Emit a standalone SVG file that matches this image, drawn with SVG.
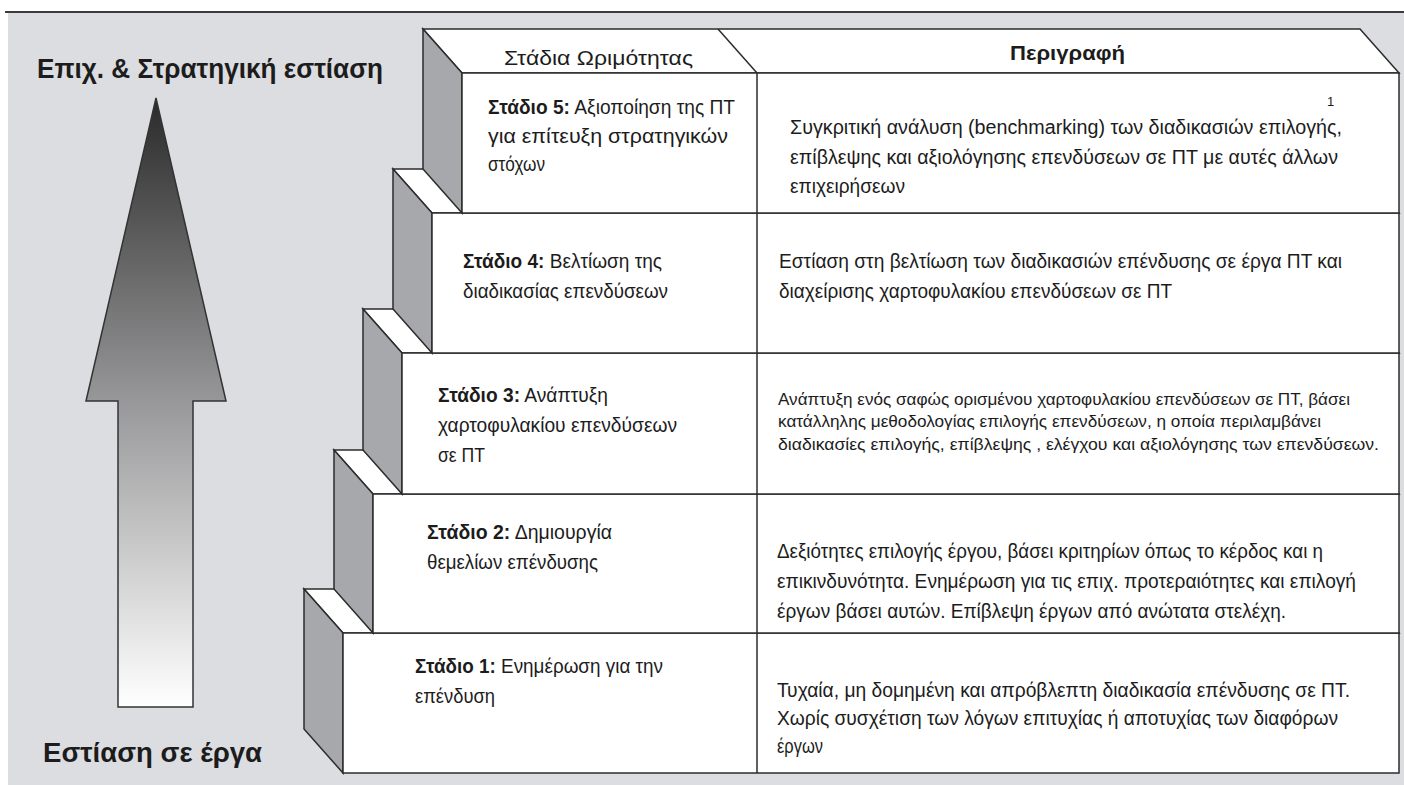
<svg xmlns="http://www.w3.org/2000/svg" width="1404" height="785" viewBox="0 0 1404 785">
<style>
.t{font-family:"Liberation Sans",Arial,sans-serif;fill:#1c1c1c}
.st{font-size:20.5px}
.ds{font-size:20px}
.d3{font-size:17px}
.b{font-weight:bold}
.face{stroke:#2b2b2b;stroke-width:1.5;stroke-linejoin:miter}
.top{fill:#ffffff}
.side{fill:#a7a8ab}
.front{fill:#ffffff}
.ln{stroke:#2b2b2b;stroke-width:1.5;fill:none}
</style>
<defs>
<linearGradient id="ag" gradientUnits="userSpaceOnUse" x1="0" y1="98" x2="0" y2="707">
<stop offset="0" stop-color="#2a2a2a"/>
<stop offset="0.5" stop-color="#98989a"/>
<stop offset="1" stop-color="#ffffff"/>
</linearGradient>
</defs>
<rect x="0" y="0" width="1404" height="785" fill="#ffffff"/>
<rect x="8" y="13" width="1396" height="772" fill="#dcdde0"/>
<line x1="5" y1="12" x2="1404" y2="12" stroke="#3a3a3a" stroke-width="2"/>

<g id="title-top">
<text class="t b" x="37" y="78" font-size="27" textLength="346" lengthAdjust="spacingAndGlyphs">Επιχ. &amp; Στρατηγική εστίαση</text>
</g>
<g id="arrow">
<polygon points="156,98 226,401 193,401 193,707 118,707 118,401 86,401" fill="url(#ag)" stroke="#333" stroke-width="1.5"/>
</g>
<g id="title-bottom">
<text class="t b" x="43" y="762" font-size="27" textLength="219" lengthAdjust="spacingAndGlyphs">Εστίαση σε έργα</text>
</g>

<g id="stage1">
<polygon class="face top" points="304,589 1360,589 1399,633 343,633"/>
<polygon class="face side" points="304,589 343,633 343,773 304,729"/>
<rect class="face front" x="343" y="633" width="1056" height="140"/>
</g>
<g id="stage2">
<polygon class="face top" points="334,450 1360,450 1399,494 373,494"/>
<polygon class="face side" points="334,450 373,494 373,633 334,589"/>
<rect class="face front" x="373" y="494" width="1026" height="139"/>
</g>
<g id="stage3">
<polygon class="face top" points="363,309 1360,309 1399,353 402,353"/>
<polygon class="face side" points="363,309 402,353 402,494 363,450"/>
<rect class="face front" x="402" y="353" width="997" height="141"/>
</g>
<g id="stage4">
<polygon class="face top" points="393,169 1360,169 1399,213 432,213"/>
<polygon class="face side" points="393,169 432,213 432,353 393,309"/>
<rect class="face front" x="432" y="213" width="967" height="140"/>
</g>
<g id="stage5">
<polygon class="face top" points="423,29 1360,29 1399,73 462,73"/>
<polygon class="face side" points="423,29 462,73 462,213 423,169"/>
<rect class="face front" x="462" y="73" width="937" height="140"/>
</g>

<g id="connectors">
<line class="ln" x1="757" y1="73" x2="757" y2="773"/>
<line class="ln" x1="718" y1="29" x2="757" y2="73"/>
</g>

<g id="header">
<text class="t" x="504" y="65" font-size="21" textLength="189" lengthAdjust="spacingAndGlyphs">Στάδια Ωριμότητας</text>
<text class="t b" x="1010" y="60" font-size="21" textLength="115" lengthAdjust="spacingAndGlyphs">Περιγραφή</text>
</g>

<g id="stage5-text">
<text class="t st" x="488" y="114" textLength="247" lengthAdjust="spacingAndGlyphs"><tspan class="b">Στάδιο 5:</tspan> Αξιοποίηση της ΠΤ</text>
<text class="t st" x="488" y="143" textLength="240" lengthAdjust="spacingAndGlyphs">για επίτευξη στρατηγικών</text>
<text class="t st" x="488" y="171" textLength="57" lengthAdjust="spacingAndGlyphs">στόχων</text>
<text class="t" x="1327" y="106" font-size="13">1</text>
<text class="t ds" x="790" y="134" textLength="552" lengthAdjust="spacingAndGlyphs">Συγκριτική ανάλυση (benchmarking)  των διαδικασιών επιλογής,</text>
<text class="t ds" x="790" y="164" textLength="548" lengthAdjust="spacingAndGlyphs">επίβλεψης και αξιολόγησης επενδύσεων  σε ΠΤ με αυτές άλλων</text>
<text class="t ds" x="790" y="193" textLength="115" lengthAdjust="spacingAndGlyphs">επιχειρήσεων</text>
</g>

<g id="stage4-text">
<text class="t st" x="463" y="268" textLength="199" lengthAdjust="spacingAndGlyphs"><tspan class="b">Στάδιο 4:</tspan> Βελτίωση της</text>
<text class="t st" x="463" y="298" textLength="205" lengthAdjust="spacingAndGlyphs">διαδικασίας επενδύσεων</text>
<text class="t ds" x="779" y="268" textLength="563" lengthAdjust="spacingAndGlyphs">Εστίαση στη βελτίωση των διαδικασιών επένδυσης σε έργα ΠΤ και</text>
<text class="t ds" x="779" y="298" textLength="393" lengthAdjust="spacingAndGlyphs">διαχείρισης χαρτοφυλακίου επενδύσεων σε ΠΤ</text>
</g>

<g id="stage3-text">
<text class="t st" x="438" y="402" textLength="170" lengthAdjust="spacingAndGlyphs"><tspan class="b">Στάδιο 3:</tspan> Ανάπτυξη</text>
<text class="t st" x="438" y="432" textLength="239" lengthAdjust="spacingAndGlyphs">χαρτοφυλακίου επενδύσεων</text>
<text class="t st" x="438" y="462" textLength="47" lengthAdjust="spacingAndGlyphs">σε ΠΤ</text>
<text class="t d3" x="778" y="405" textLength="572" lengthAdjust="spacingAndGlyphs">Ανάπτυξη ενός σαφώς ορισμένου χαρτοφυλακίου επενδύσεων σε ΠΤ, βάσει</text>
<text class="t d3" x="778" y="427" textLength="543" lengthAdjust="spacingAndGlyphs">κατάλληλης μεθοδολογίας επιλογής επενδύσεων, η οποία περιλαμβάνει</text>
<text class="t d3" x="778" y="450" textLength="601" lengthAdjust="spacingAndGlyphs">διαδικασίες επιλογής, επίβλεψης , ελέγχου και αξιολόγησης των επενδύσεων.</text>
</g>

<g id="stage2-text">
<text class="t st" x="427" y="539" textLength="185" lengthAdjust="spacingAndGlyphs"><tspan class="b">Στάδιο 2:</tspan> Δημιουργία</text>
<text class="t st" x="427" y="569" textLength="171" lengthAdjust="spacingAndGlyphs">θεμελίων επένδυσης</text>
<text class="t ds" x="777" y="558" textLength="546" lengthAdjust="spacingAndGlyphs">Δεξιότητες επιλογής έργου, βάσει κριτηρίων όπως το κέρδος και η</text>
<text class="t ds" x="777" y="588" textLength="579" lengthAdjust="spacingAndGlyphs">επικινδυνότητα. Ενημέρωση για τις επιχ.  προτεραιότητες και επιλογή</text>
<text class="t ds" x="777" y="618" textLength="509" lengthAdjust="spacingAndGlyphs">έργων βάσει αυτών. Επίβλεψη έργων από ανώτατα στελέχη.</text>
</g>

<g id="stage1-text">
<text class="t st" x="415" y="673" textLength="248" lengthAdjust="spacingAndGlyphs"><tspan class="b">Στάδιο 1:</tspan> Ενημέρωση για την</text>
<text class="t st" x="415" y="703" textLength="80" lengthAdjust="spacingAndGlyphs">επένδυση</text>
<text class="t ds" x="777" y="697" textLength="573" lengthAdjust="spacingAndGlyphs">Τυχαία, μη δομημένη και απρόβλεπτη διαδικασία επένδυσης σε ΠΤ.</text>
<text class="t ds" x="777" y="725" textLength="561" lengthAdjust="spacingAndGlyphs">Χωρίς συσχέτιση των λόγων επιτυχίας ή αποτυχίας των διαφόρων</text>
<text class="t ds" x="777" y="753" textLength="46" lengthAdjust="spacingAndGlyphs">έργων</text>
</g>
</svg>
